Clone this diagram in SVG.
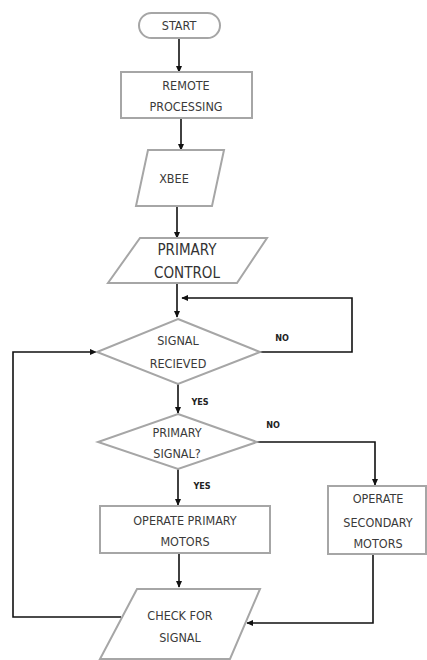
<svg xmlns="http://www.w3.org/2000/svg" width="427" height="660" viewBox="0 0 427 660">
<style>
.s{fill:#fff;stroke:#a6a6a6;stroke-width:2}
.t{font-family:"DejaVu Sans Condensed","Liberation Sans",sans-serif;font-size:12.5px;fill:#3a3a3a;text-anchor:middle}
.tb{font-family:"DejaVu Sans Condensed","Liberation Sans",sans-serif;font-size:15px;fill:#333;text-anchor:middle}
.l{font-family:"DejaVu Sans Condensed","Liberation Sans",sans-serif;font-size:9px;font-weight:bold;fill:#222;text-anchor:middle}
.c{fill:none;stroke:#111;stroke-width:1.6}
</style>
<defs>
<marker id="a" viewBox="0 0 10 10" refX="9" refY="5" markerWidth="7" markerHeight="7" markerUnits="userSpaceOnUse" orient="auto">
<path d="M0,0.5 L10,5 L0,9.5 z" fill="#111"/>
</marker>
</defs>
<g id="connectors">
<path class="c" d="M179,38 V72" marker-end="url(#a)"/>
<path class="c" d="M181,118 V150" marker-end="url(#a)"/>
<path class="c" d="M177,206 V238" marker-end="url(#a)"/>
<path class="c" d="M177,283 V317" marker-end="url(#a)"/>
<path class="c" d="M260,352 H352 V298 H182" marker-end="url(#a)"/>
<path class="c" d="M178,383 V413" marker-end="url(#a)"/>
<path class="c" d="M257,442 H375 V485" marker-end="url(#a)"/>
<path class="c" d="M178,469 V505" marker-end="url(#a)"/>
<path class="c" d="M179,553 V587" marker-end="url(#a)"/>
<path class="c" d="M373,554 V623 H247" marker-end="url(#a)"/>
<path class="c" d="M121,617 H13 V352 H96" marker-end="url(#a)"/>
<text class="l" x="282" y="341">NO</text>
<text class="l" x="200" y="405">YES</text>
<text class="l" x="273" y="428">NO</text>
<text class="l" x="202" y="489">YES</text>
</g>
<g id="start">
<rect class="s" x="139" y="13" width="81" height="25" rx="12.5"/>
<text class="t" x="179" y="30">START</text>
</g>
<g id="remote">
<rect class="s" x="121" y="72" width="131" height="46"/>
<text class="t" x="186" y="90">REMOTE</text>
<text class="t" x="186" y="111">PROCESSING</text>
</g>
<g id="xbee">
<polygon class="s" points="148,150 224,150 212,206 136,206"/>
<text class="t" x="174" y="183">XBEE</text>
</g>
<g id="primary-control">
<polygon class="s" points="140,238 267,238 237,283 108,283"/>
<text class="tb" x="187" y="255">PRIMARY</text>
<text class="tb" x="187" y="278">CONTROL</text>
</g>
<g id="signal-received">
<polygon class="s" points="178,319 260,352 178,384 97,352"/>
<text class="t" x="178" y="345">SIGNAL</text>
<text class="t" x="178" y="368">RECIEVED</text>
</g>
<g id="primary-signal">
<polygon class="s" points="178,414 257,442 178,469 98,442"/>
<text class="t" x="177" y="437">PRIMARY</text>
<text class="t" x="177" y="458">SIGNAL?</text>
</g>
<g id="operate-primary">
<rect class="s" x="100" y="506" width="170" height="47"/>
<text class="t" x="185" y="525">OPERATE PRIMARY</text>
<text class="t" x="185" y="546">MOTORS</text>
</g>
<g id="operate-secondary">
<rect class="s" x="328" y="486" width="98" height="68"/>
<text class="t" x="378" y="503">OPERATE</text>
<text class="t" x="378" y="527">SECONDARY</text>
<text class="t" x="378" y="548">MOTORS</text>
</g>
<g id="check-signal">
<polygon class="s" points="137,589 260,589 230,659 100,659"/>
<text class="t" x="180" y="620">CHECK FOR</text>
<text class="t" x="180" y="642">SIGNAL</text>
</g>
</svg>
